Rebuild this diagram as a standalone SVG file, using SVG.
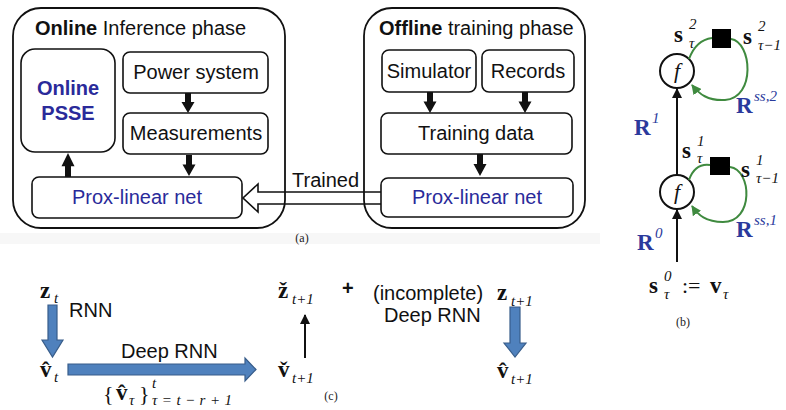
<svg xmlns="http://www.w3.org/2000/svg" width="786" height="410" viewBox="0 0 786 410">
  <style>
    .outer { fill: none; stroke: #111; stroke-width: 1.8; }
    .box { fill: #fff; stroke: #111; stroke-width: 1.6; }
    .sans { font-family: "Liberation Sans", Arial, sans-serif; font-size: 20px; fill: #111; }
    .blue { fill: #2a2a9a; }
    .bold { font-weight: bold; }
    .mb { font-family: "Liberation Serif", "DejaVu Serif", "Times New Roman", serif; font-weight: bold; font-size: 23px; fill: #111; }
    .mi { font-family: "Liberation Serif", "Times New Roman", serif; font-weight: normal; font-style: italic; font-size: 15px; }
    .mr { font-family: "Liberation Serif", "Times New Roman", serif; font-weight: normal; font-size: 22px; fill: #111; }
    .rb { fill: #2b3a9c; }
    .cap { font-family: "Liberation Serif", "Times New Roman", serif; font-size: 12px; fill: #222; text-anchor: middle; }
    .thick { fill: #111; }
    .barrow { fill: #4f81bd; stroke: #385d8a; stroke-width: 1.2; }
    .loop { fill: none; stroke: #3f8a3f; stroke-width: 2; marker-end: url(#gh); }
    .stem { stroke: #111; stroke-width: 2; marker-end: url(#bh); }
  </style>
  <defs>
    <marker id="bh" viewBox="0 0 10 10" refX="9" refY="5" markerWidth="5" markerHeight="5" orient="auto" markerUnits="strokeWidth">
      <path d="M0,0 L10,5 L0,10 Z" fill="#111"/>
    </marker>
    <marker id="gh" viewBox="0 0 10 10" refX="9" refY="5" markerWidth="5" markerHeight="5" orient="auto" markerUnits="strokeWidth">
      <path d="M0,0 L10,5 L0,10 Z" fill="#3f8a3f"/>
    </marker>
    <!-- short block arrow pointing down, 20px long -->
    <path id="dn" d="M-3,0 H3 V9 H6.5 L0,20 L-6.5,9 H-3 Z"/>
  </defs>

  <!-- faint strip under panel (a) -->
  <rect x="0" y="233" width="600" height="11" fill="#f7f7f7"/>

  <!-- ===== (a) ===== -->
  <g id="online-phase">
    <rect class="outer" x="13" y="8" width="272" height="220" rx="28"/>
    <text class="sans" x="35" y="35"><tspan class="bold">Online</tspan> Inference phase</text>
  </g>
  <g id="offline-phase">
    <rect class="outer" x="364" y="8" width="221" height="220" rx="28"/>
    <text class="sans" x="379" y="35"><tspan class="bold">Offline</tspan> training phase</text>
  </g>

  <g id="online-psse">
    <rect class="box" x="21" y="49" width="94" height="103" rx="14"/>
    <text class="sans blue bold" x="68" y="95" text-anchor="middle">Online</text>
    <text class="sans blue bold" x="68" y="120" text-anchor="middle">PSSE</text>
  </g>
  <g id="power-system">
    <rect class="box" x="123" y="52" width="145" height="41" rx="7"/>
    <text class="sans" x="196" y="79" text-anchor="middle">Power system</text>
  </g>
  <g id="measurements">
    <rect class="box" x="123" y="113" width="145" height="41" rx="7"/>
    <text class="sans" x="196" y="140" text-anchor="middle">Measurements</text>
  </g>
  <g id="prox-net-online">
    <rect class="box" x="32" y="177" width="210" height="41" rx="7"/>
    <text class="sans blue" x="137" y="204" text-anchor="middle">Prox-linear net</text>
  </g>

  <g id="simulator">
    <rect class="box" x="382" y="50" width="94" height="42" rx="7"/>
    <text class="sans" x="429" y="78" text-anchor="middle">Simulator</text>
  </g>
  <g id="records">
    <rect class="box" x="482" y="50" width="92" height="42" rx="7"/>
    <text class="sans" x="528" y="78" text-anchor="middle">Records</text>
  </g>
  <g id="training-data">
    <rect class="box" x="381" y="113" width="191" height="41" rx="7"/>
    <text class="sans" x="476" y="140" text-anchor="middle">Training data</text>
  </g>
  <g id="prox-net-offline">
    <rect class="box" x="381" y="178" width="192" height="39" rx="7"/>
    <text class="sans blue" x="477" y="204" text-anchor="middle">Prox-linear net</text>
  </g>

  <g id="connectors-a">
    <use href="#dn" class="thick" transform="translate(188,93)"/>
    <use href="#dn" class="thick" transform="translate(189,155) scale(1,1.05)"/>
    <use href="#dn" class="thick" transform="translate(68,177) scale(1,-1.2)"/>
    <use href="#dn" class="thick" transform="translate(430,92) scale(1,1.05)"/>
    <use href="#dn" class="thick" transform="translate(525,92) scale(1,1.05)"/>
    <use href="#dn" class="thick" transform="translate(480,154) scale(1,1.1)"/>
    <!-- hollow "trained" arrow -->
    <path d="M381,192 H258 V184 L243,198 L258,212 V204 H381" fill="none" stroke="#111" stroke-width="1.6"/>
    <text class="sans" x="292" y="187">Trained</text>
  </g>
  <text class="cap" x="302" y="242">(a)</text>

  <!-- ===== (b) ===== -->
  <g id="f-upper">
    <circle cx="677" cy="71" r="17" fill="#fff" stroke="#111" stroke-width="2"/>
    <text class="mr" x="677" y="78" text-anchor="middle" font-style="italic" font-size="20">f</text>
  </g>
  <g id="f-lower">
    <circle cx="677" cy="192" r="17" fill="#fff" stroke="#111" stroke-width="2"/>
    <text class="mr" x="677" y="199" text-anchor="middle" font-style="italic" font-size="20">f</text>
  </g>
  <g id="delay-upper"><rect x="712" y="29" width="19" height="19" fill="#000"/></g>
  <g id="delay-lower"><rect x="710" y="157" width="20" height="18" fill="#000"/></g>

  <g id="connectors-b">
    <line class="stem" x1="677" y1="262" x2="677" y2="210"/>
    <line class="stem" x1="677" y1="175" x2="677" y2="89"/>
    <path d="M689,59 Q696,40 712,38" fill="none" stroke="#3f8a3f" stroke-width="2"/>
    <path class="loop" d="M731,39 C752,42 756,98 725,100 C708,101 699,94 692,85"/>
    <path d="M689,180 Q695,163 710,165" fill="none" stroke="#3f8a3f" stroke-width="2"/>
    <path class="loop" d="M730,167 C752,170 754,222 723,222 C706,222 698,215 692,206"/>
  </g>

  <g id="labels-b">
    <text class="mb" x="674" y="42">s<tspan class="mi" x="689" y="29">2</tspan><tspan class="mi" x="689" y="48">τ</tspan></text>
    <text class="mb" x="743" y="44">s<tspan class="mi" x="758" y="31">2</tspan><tspan class="mi" x="758" y="50">τ−1</tspan></text>
    <text class="mb rb" x="736" y="113">R<tspan class="mi" x="754" y="101">ss,2</tspan></text>
    <text class="mb rb" x="634" y="135">R<tspan class="mi" x="652" y="123">1</tspan></text>
    <text class="mb" x="682" y="158">s<tspan class="mi" x="697" y="146">1</tspan><tspan class="mi" x="697" y="163">τ</tspan></text>
    <text class="mb" x="741" y="177">s<tspan class="mi" x="756" y="165">1</tspan><tspan class="mi" x="756" y="183">τ−1</tspan></text>
    <text class="mb rb" x="736" y="237">R<tspan class="mi" x="754" y="225">ss,1</tspan></text>
    <text class="mb rb" x="637" y="250">R<tspan class="mi" x="655" y="238">0</tspan></text>
    <text class="mb" x="649" y="293">s<tspan class="mi" x="664" y="281">0</tspan><tspan class="mi" x="664" y="299">τ</tspan><tspan class="mr" x="682" y="293">:=</tspan><tspan x="710" y="293">v</tspan><tspan class="mi" x="723" y="299">τ</tspan></text>
  </g>
  <text class="cap" x="683" y="326">(b)</text>

  <!-- ===== (c) ===== -->
  <g id="connectors-c">
    <polygon class="barrow" points="48,305 57,305 57,340 63,340 52.5,357 42,340 48,340"/>
    <polygon class="barrow" points="68,364 245,364 245,358 256,369.5 245,381 245,375 68,375"/>
    <polygon class="barrow" points="510,307 520,307 520,343 526,343 515,357 504,343 510,343"/>
    <line class="stem" x1="305" y1="358" x2="305" y2="315"/>
  </g>

  <g id="labels-c">
    <text class="mb" x="40" y="298">z<tspan class="mi" x="54" y="303">t</tspan></text>
    <text class="sans" x="69" y="317">RNN</text>

    <text class="mb" x="40" y="377">v&#x302;<tspan class="mi" x="54" y="382">t</tspan></text>

    <text class="sans" x="121" y="358">Deep RNN</text>

    <text class="mr" x="103" y="401" font-size="24">{<tspan class="mb" x="116" y="400">v&#x302;</tspan><tspan class="mi" x="129" y="405">τ</tspan><tspan x="139" y="401">}</tspan><tspan class="mi" x="152" y="388" font-size="17">t</tspan><tspan class="mi" x="152" y="405" font-size="18" textLength="80" lengthAdjust="spacing">τ=t−r+1</tspan></text>

    <text class="mb" x="278" y="298">ž<tspan class="mi" x="292" y="304" font-size="17">t+1</tspan></text>
    <text class="mb" x="278" y="377">v&#x30C;<tspan class="mi" x="292" y="383" font-size="17">t+1</tspan></text>

    <text class="sans bold" x="342" y="295">+</text>
    <text class="sans" x="373" y="300">(incomplete)</text>
    <text class="sans" x="384" y="322">Deep RNN</text>

    <text class="mb" x="497" y="300">z<tspan class="mi" x="511" y="306" font-size="17">t+1</tspan></text>
    <text class="mb" x="497" y="378">v&#x302;<tspan class="mi" x="511" y="384" font-size="17">t+1</tspan></text>
  </g>
  <text class="cap" x="331" y="400">(c)</text>
</svg>
